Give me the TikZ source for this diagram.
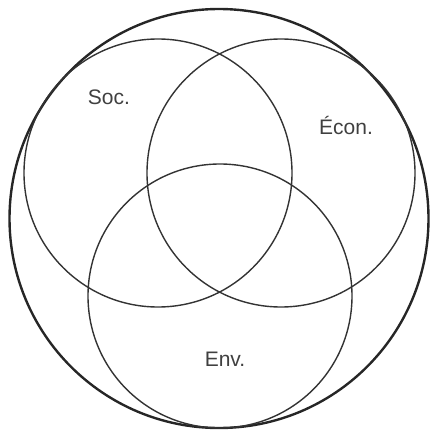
\documentclass[tikz,border=0pt]{standalone}
\usepackage{fontspec}
\setmainfont{Liberation Sans}
\begin{document}
\begin{tikzpicture}[x=1pt,y=-1pt,
  outer/.style={draw=black!85,line width=2.4pt},
  ring/.style={draw=black!80,line width=1.4pt},
  lbl/.style={font=\fontsize{21}{21}\selectfont,text=black!75,inner sep=0pt}]
\useasboundingbox (0,0) rectangle (430,433);
\draw[outer] (219,218.5) circle (209.5);
\draw[ring] (158,173) circle (134);
\draw[ring] (281,173) circle (134);
\draw[ring] (220,296) circle (132);
\node[lbl] (soc) at (109,97) {Soc.};
\node[lbl] (econ) at (346,125) {Écon.};
\node[lbl] (env) at (225,359) {Env.};
\end{tikzpicture}
\end{document}
